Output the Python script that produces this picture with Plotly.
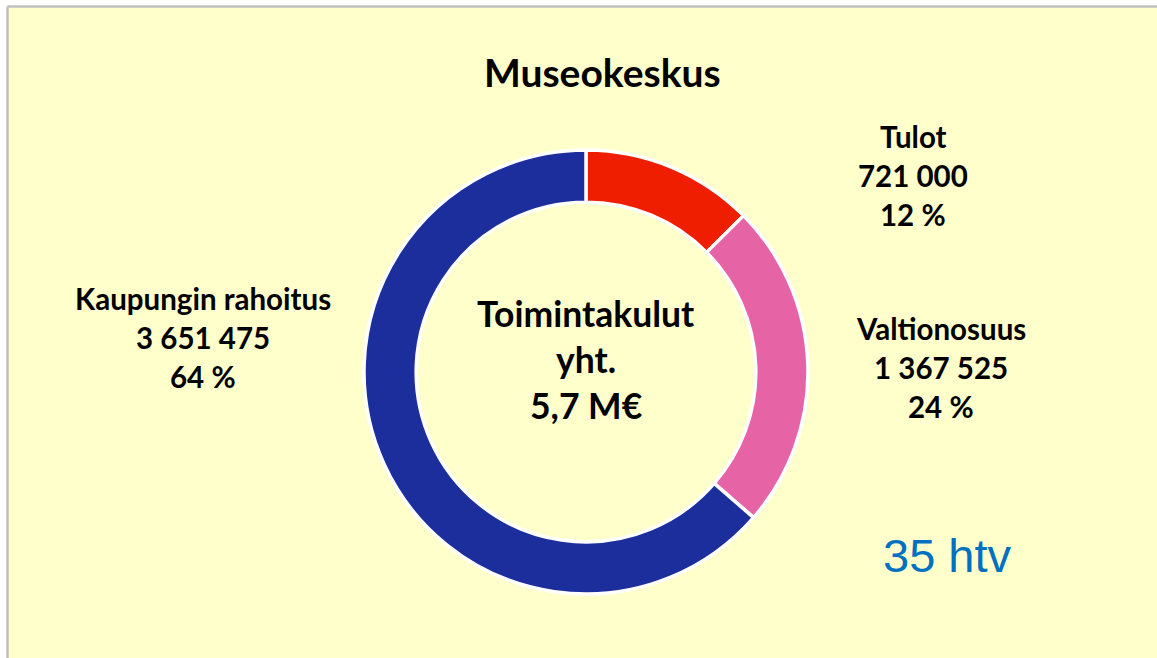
import plotly.graph_objects as go

W, H = 1157, 658

# data
labels = ["Tulot", "Valtionosuus", "Kaupungin rahoitus"]
values = [721000, 1367525, 3651475]
percent_labels = ["12 %", "24 %", "64 %"]
colors = ["#F01E00", "#E664A6", "#1C2E9C"]
title = "Museokeskus"
center_lines = ["Toimintakulut", "yht.", "5,7 M€"]
htv_text = "35 htv"

# pixel positions of the label blocks (centre x, first line y)
label_pos = {
    "Tulot": (913, 136),
    "Valtionosuus": (941, 328),
    "Kaupungin rahoitus": (203, 298),
}


def fmt(v):
    return f"{v:,}".replace(",", " ")


def px(x, y):
    return x / W, 1 - y / H


fig = go.Figure()

cx, cy, r = 586, 372, 222
x0, y1 = px(cx - r, cy - r)
x1, y0 = px(cx + r, cy + r)
fig.add_trace(go.Pie(
    labels=labels,
    values=values,
    marker=dict(colors=colors, line=dict(color="white", width=3.5)),
    hole=0.765,
    sort=False,
    direction="clockwise",
    rotation=0,
    textinfo="none",
    hoverinfo="label+value+percent",
    showlegend=False,
    domain=dict(x=[x0, x1], y=[y0, y1]),
))

font = "Lato, Noto Sans, sans-serif"
ann = []


def add_text(text, x, y, size, color="black", fam=font, weight="bold"):
    xx, yy = px(x, y)
    ann.append(dict(text=text, x=xx, y=yy, xref="paper", yref="paper",
                    showarrow=False, xanchor="center", yanchor="middle",
                    font=dict(family=fam, size=size, color=color, weight=weight)))


add_text(title, 602, 72, 39)

for lab, val, pct in zip(labels, values, percent_labels):
    lx, ly = label_pos[lab]
    for i, line in enumerate([lab, fmt(val), pct]):
        add_text(line, lx, ly + i * 39, 29.5)

for i, line in enumerate(center_lines):
    add_text(line, 586, 313 + i * 46, 35.5)

add_text(htv_text, 947, 555, 47, color="#0070C0",
         fam="Liberation Sans, Arial, sans-serif", weight="normal")

bx, by = px(7.5, 6.5)
border = dict(color="#C0C0C0", width=2.5)
fig.update_layout(
    width=W, height=H,
    margin=dict(l=0, r=0, t=0, b=0),
    paper_bgcolor="white",
    annotations=ann,
    shapes=[
        dict(type="rect", xref="paper", yref="paper",
             x0=bx, x1=1, y0=0, y1=by,
             fillcolor="#FFFFCC", line=dict(width=0), layer="below"),
        dict(type="line", xref="paper", yref="paper",
             x0=bx, x1=1, y0=by, y1=by, line=border, layer="below"),
        dict(type="line", xref="paper", yref="paper",
             x0=bx, x1=bx, y0=0, y1=by, line=border, layer="below"),
    ],
)

# figure fills the window exactly: no body margin, no scrollbars
fig.write_html("out.html", config={"displayModeBar": False}, post_script=(
    "document.body.style.margin='0';"
    "document.documentElement.style.overflow='hidden';"))
